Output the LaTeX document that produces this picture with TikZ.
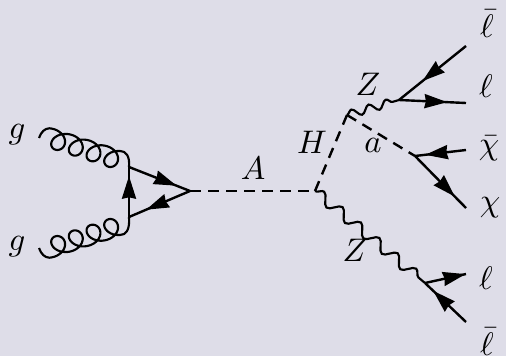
\documentclass[tikz,border=0pt]{standalone}
\usepackage{graphicx}
\usetikzlibrary{arrows.meta,decorations.markings,decorations.pathmorphing}
\definecolor{bgc}{RGB}{222,221,232}
\newcommand{\lbltxt}[1]{\scalebox{2.45}{$#1$}}
\tikzset{
 x=0.75pt,y=-0.75pt,
 lineb/.style={line width=1.8pt,draw=black},
 fermion/.style={lineb,postaction={decorate},decoration={markings,mark=at position #1 with {\arrow{Stealth[length=17pt,width=10.5pt,inset=1pt]}}}},
 fermion/.default=0.7,
 scalar/.style={lineb,dash pattern=on 8pt off 5.5pt},
 zup/.style={line width=1.6pt,draw=black,decorate,decoration={snake,segment length=13.5pt,amplitude=3pt}},
 zdown/.style={line width=1.6pt,draw=black,decorate,decoration={snake,segment length=18pt,amplitude=4pt}},
 gluon/.style={line width=1.6pt,draw=black,line join=round},
 lab/.style={inner sep=0pt},
}
\begin{document}
\begin{tikzpicture}
\fill[bgc] (0,0) rectangle (506,356);
\useasboundingbox (0,0) rectangle (506,356);
\coordinate (g1) at (39,138);
\coordinate (g2) at (39,248);
\coordinate (t1) at (129,167);
\coordinate (t2) at (129,217);
\coordinate (tip) at (190,191);
\coordinate (hA) at (315,191);
\coordinate (hH) at (347,115);
\coordinate (vZ1) at (399,100);
\coordinate (va) at (415,156);
\coordinate (vZ2) at (425,283);
\coordinate (e1) at (466,46);
\coordinate (e2) at (466,103);
\coordinate (e3) at (466,150);
\coordinate (e4) at (466,208);
\coordinate (e5) at (466,274);
\coordinate (e6) at (466,322);
\draw[gluon] (g1) .. controls (41,132) and (45,128.3) .. (49.3,128.3)
  -- plot[domain=0:1440,samples=145] ({49.3+\x/360*17.67+11*sin(\x)},{137.7+\x/360*5.67-9.4*cos(\x)})
  .. controls (126,151) and (130,156) .. (t1);
\draw[gluon] (g2) .. controls (41,254) and (45,257.7) .. (49.3,257.7)
  -- plot[domain=0:1440,samples=145] ({49.3+\x/360*17.67+11*sin(\x)},{248.3-\x/360*5.67+9.4*cos(\x)})
  .. controls (126,235) and (130,230) .. (t2);
\draw[fermion=0.82] (t2) -- (t1);
\draw[fermion=0.78] (t1) -- (tip);
\draw[fermion=0.72] (tip) -- (t2);
\draw[scalar] (tip) -- (hA);
\draw[scalar] (hA) -- (hH);
\draw[scalar] (hH) -- (va);
\draw[zup] (hH) -- (vZ1);
\draw[zdown] (hA) -- (vZ2);
\draw[fermion=0.65] (e1) -- (vZ1);
\draw[fermion=0.72] (vZ1) -- (e2);
\draw[fermion=0.8] (e3) -- (va);
\draw[fermion=0.78] (va) -- (e4);
\draw[fermion=0.99] (vZ2) -- (e5);
\draw[fermion=0.8] (e6) -- (vZ2);
\node[lab] (lg1) at (17,135) {\lbltxt{g}};
\node[lab] (lg2) at (17,247) {\lbltxt{g}};
\node[lab] (lA) at (253,168) {\lbltxt{A}};
\node[lab] (lH) at (312,142) {\lbltxt{H}};
\node[lab] (lZ1) at (368,84) {\lbltxt{Z}};
\node[lab] (la) at (373,145) {\lbltxt{a}};
\node[lab] (lZ2) at (355,250) {\lbltxt{Z}};
\node[lab] (lb1) at (487,24) {\lbltxt{\bar\ell}};
\node[lab] (ll1) at (486,86) {\lbltxt{\ell}};
\node[lab] (lc1) at (489,148) {\lbltxt{\bar\chi}};
\node[lab] (lc2) at (490,208) {\lbltxt{\chi}};
\node[lab] (ll2) at (486,278) {\lbltxt{\ell}};
\node[lab] (lb2) at (487,342) {\lbltxt{\bar\ell}};
\end{tikzpicture}
\end{document}
